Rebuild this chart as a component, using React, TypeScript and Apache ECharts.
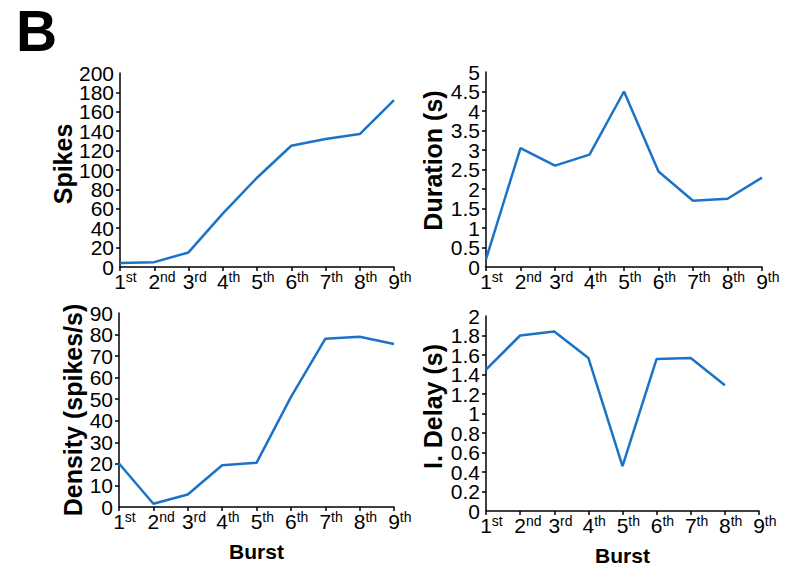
import React, { useEffect, useRef } from "react";
import * as echarts from "echarts";

const bursts = ["1", "2", "3", "4", "5", "6", "7", "8", "9"];
const suffixes = ["st", "nd", "rd", "th", "th", "th", "th", "th", "th"];

const spikes = [4, 5, 15, 55, 92, 125, 132, 137, 172];
const duration = [0.2, 3.05, 2.6, 2.88, 4.5, 2.45, 1.7, 1.75, 2.29];
const density = [20.2, 1.5, 5.8, 19.4, 20.5, 51, 78, 79, 75.6];
const delay: (number | null)[] = [1.45, 1.8, 1.84, 1.57, 0.46, 1.56, 1.57, 1.29, null];

const panelTitles = ["Spikes", "Duration (s)", "Density (spikes/s)", "I. Delay (s)"];
const xTitle = "Burst";

const FONT = "'Liberation Sans', Arial, sans-serif";
const LINE_COLOR = "#1a73c8";

export default function App() {
  const ref = useRef<HTMLDivElement>(null);
  useEffect(() => {
    document.body.style.margin = "0";
    const chart = echarts.init(ref.current!, null, { renderer: "svg" });

    const grids = [
      { left: 120, top: 73, width: 274, height: 194 },
      { left: 486, top: 72, width: 276, height: 195 },
      { left: 119, top: 313, width: 275, height: 194 },
      { left: 486, top: 316, width: 273, height: 195 },
    ];
    const yCfg = [
      { max: 200, interval: 20, gap: 41, pad: [0, 0, 0, 12] },
      { max: 5, interval: 0.5, gap: 41, pad: [0, 0, 0, 18] },
      { max: 90, interval: 10, gap: 34, pad: [0, 0, 0, 0] },
      { max: 2, interval: 0.2, gap: 41, pad: [0, 0, 0, 14] },
    ];
    const datasets = [spikes, duration, density, delay];

    const axisLine = { show: true, lineStyle: { color: "#000", width: 1.5 } };
    const axisTick = { show: true, length: 4, lineStyle: { color: "#000", width: 1.5 } };
    const yLabelBase = {
      color: "#000",
      fontSize: 21,
      margin: 6,
      fontFamily: FONT,
      hideOverlap: false,
    };

    // main y axes: all inner labels (min/max hidden to dodge overlap hiding)
    const mainY = grids.map((_, i) => ({
      type: "value",
      gridIndex: i,
      position: "left",
      min: 0,
      max: yCfg[i].max,
      interval: yCfg[i].interval,
      axisLine,
      axisTick,
      splitLine: { show: false },
      name: panelTitles[i],
      nameLocation: "middle",
      nameGap: yCfg[i].gap,
      nameTextStyle: {
        fontSize: 25,
        fontWeight: "bold",
        color: "#000",
        fontFamily: FONT,
        padding: yCfg[i].pad,
      },
      axisLabel: { ...yLabelBase, showMinLabel: false, showMaxLabel: false },
    }));
    // companion y axes: only the end labels
    const endY = grids.map((_, i) => ({
      type: "value",
      gridIndex: i,
      position: "left",
      offset: 0,
      min: 0,
      max: yCfg[i].max,
      interval: yCfg[i].interval,
      axisLine: { show: false },
      axisTick: { show: false },
      splitLine: { show: false },
      axisLabel: {
        ...yLabelBase,
        showMinLabel: true,
        showMaxLabel: true,
        formatter: (v: number) => (v === 0 || Math.abs(v - yCfg[i].max) < 1e-9 ? String(v) : ""),
      },
    }));

    const option: any = {
      animation: false,
      textStyle: { fontFamily: FONT },
      graphic: [
        {
          type: "text",
          left: 16,
          top: 2,
          style: { text: "B", font: `bold 57px ${FONT}`, fill: "#000", lineHeight: 50 },
        },
      ],
      grid: grids.map((g) => ({ ...g, containLabel: false })),
      xAxis: grids.map((_, i) => ({
        type: "category",
        gridIndex: i,
        data: bursts,
        boundaryGap: false,
        axisLine,
        axisTick: { ...axisTick, interval: 0 },
        splitLine: { show: false },
        name: i >= 2 ? xTitle : "",
        nameLocation: "middle",
        nameGap: 34,
        nameTextStyle: { fontSize: 21, fontWeight: "bold", color: "#000", fontFamily: FONT },
        axisLabel: {
          interval: 0,
          margin: 3,
          color: "#000",
          showMinLabel: true,
          showMaxLabel: true,
          hideOverlap: false,
          formatter: (v: string, idx: number) =>
            `{h|${suffixes[idx]}}{n|${v}}{s|${suffixes[idx]}}`,
          rich: {
            h: { fontSize: 14, color: "rgba(0,0,0,0)", fontFamily: FONT },
            n: { fontSize: 21, color: "#000", fontFamily: FONT, lineHeight: 22 },
            s: { fontSize: 14, color: "#000", fontFamily: FONT, verticalAlign: "top" },
          },
        },
      })),
      yAxis: [...mainY, ...endY],
      series: datasets.map((d, i) => ({
        type: "line",
        xAxisIndex: i,
        yAxisIndex: i,
        data: d,
        showSymbol: false,
        symbol: "none",
        lineStyle: { color: LINE_COLOR, width: 2.5 },
        connectNulls: false,
      })),
    };
    chart.setOption(option);
    return () => chart.dispose();
  }, []);
  return <div ref={ref} style={{ width: 786, height: 570 }} />;
}
